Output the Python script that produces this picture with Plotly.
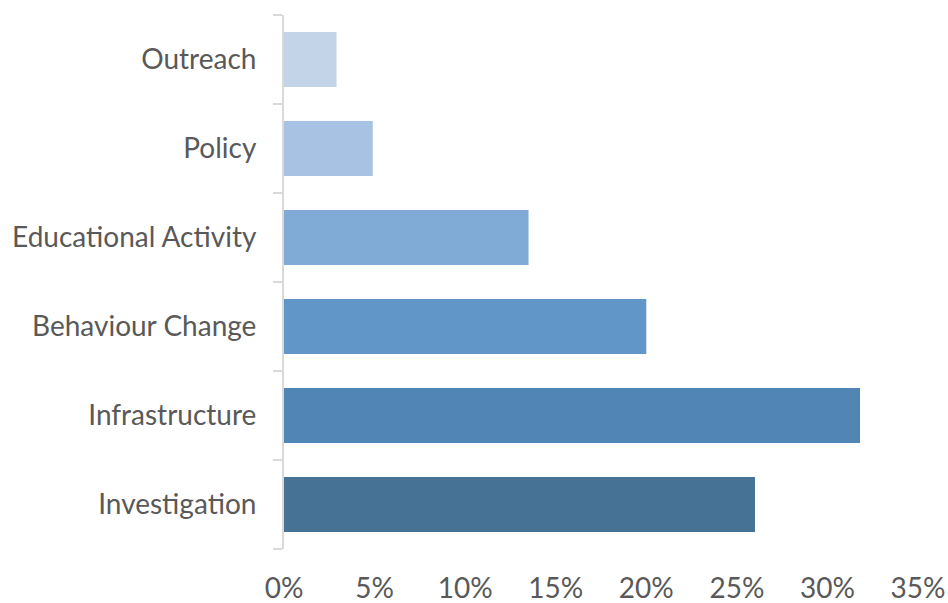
import plotly.graph_objects as go

# Share of projects by activity type (percent)
categories = ["Outreach", "Policy", "Educational Activity", "Behaviour Change",
              "Infrastructure", "Investigation"]
values = [2.9, 4.9, 13.5, 20.0, 31.8, 26.0]
colors = ["#c3d4e9", "#a7c2e2", "#80abd6", "#6097c8", "#5185b5", "#467296"]
x_ticks = [0, 5, 10, 15, 20, 25, 30, 35]

fig = go.Figure(
    go.Bar(
        x=values,
        y=categories,
        orientation="h",
        marker=dict(color=colors, line=dict(width=0)),
        width=0.62,
        hoverinfo="x+y",
    )
)

font_family = "Lato, 'Source Sans Pro', sans-serif"
fig.update_layout(
    width=948,
    height=603,
    margin=dict(l=284, r=30, t=15, b=54),
    paper_bgcolor="white",
    plot_bgcolor="white",
    showlegend=False,
    font=dict(family=font_family, size=28, color="#595959"),
)
fig.update_xaxes(
    range=[0, 35],
    tickvals=x_ticks,
    ticktext=[f"{t}%" for t in x_ticks],
    showgrid=False,
    zeroline=False,
    showline=False,
    ticks="",
    ticklabelstandoff=20,
    automargin=False,
    fixedrange=True,
)
fig.update_yaxes(
    categoryorder="array",
    categoryarray=list(reversed(categories)),
    showgrid=False,
    zeroline=False,
    showline=True,
    linecolor="#d9d9d9",
    linewidth=2,
    ticks="outside",
    tickson="boundaries",
    ticklen=9,
    tickwidth=2,
    tickcolor="#d9d9d9",
    ticklabelstandoff=20,
    automargin=False,
    fixedrange=True,
)

fig.write_html("out.html")
